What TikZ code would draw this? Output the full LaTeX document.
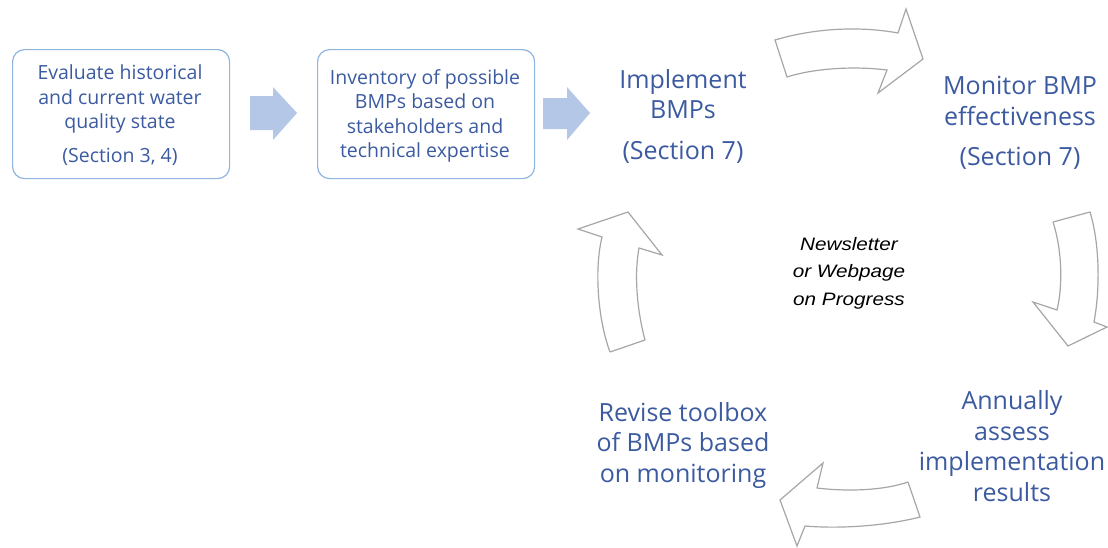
\documentclass[tikz,border=0pt]{standalone}
\usepackage{fontspec}
\setmainfont{Open Sans}
\newfontfamily\notefont[FakeStretch=1.15]{Liberation Sans}
\definecolor{txtblue}{RGB}{59,90,160}
\definecolor{boxline}{RGB}{143,180,224}
\definecolor{arrfill}{RGB}{180,199,231}
\definecolor{arrline}{RGB}{166,166,166}
\begin{document}
\begin{tikzpicture}[x=1pt,y=-1pt,
  stepbox/.style={draw=boxline,line width=1.2pt,rounded corners=12pt,minimum width=217pt,minimum height=129pt,anchor=north west},
  smalltxt/.style={text=txtblue,font=\fontsize{19.5}{24.5}\selectfont,align=center},
  bigtxt/.style={text=txtblue,font=\fontsize{25}{30.5}\selectfont,align=center},
  noteTxt/.style={text=black,font=\notefont\itshape\fontsize{18}{27.5}\selectfont,align=center},
  blockarrow/.style={fill=arrfill,draw=none},
  curvearrow/.style={draw=arrline,line width=1.2pt,fill=white,line join=miter}]
\useasboundingbox (0,0) rectangle (1108,547);
% boxes
\node[stepbox] (b1) at (12,49) {};
\node[stepbox] (b2) at (317,49) {};
\node[smalltxt] (t1) at (120,99) {Evaluate historical\\and current water\\quality state};
\node[smalltxt] (t1s) at (120,157) {(Section 3, 4)};
\node[smalltxt] (t2) at (425,116) {Inventory of possible\\BMPs based on\\stakeholders and\\technical expertise};
% block arrows
\fill[blockarrow] (250,96) -- (273,96) -- (273,87) -- (297,113) -- (273,140) -- (273,130) -- (250,130) -- cycle;
\fill[blockarrow] (543,98) -- (567,98) -- (567,87) -- (590,113) -- (567,140) -- (567,129) -- (543,129) -- cycle;
% big labels
\node[bigtxt] (imp) at (683,94) {Implement\\BMPs};
\node[bigtxt] (imps) at (683,152) {(Section 7)};
\node[bigtxt] (mon) at (1020,101) {Monitor BMP\\effectiveness};
\node[bigtxt] (mons) at (1020,158) {(Section 7)};
\node[bigtxt] (ann) at (1012,446) {Annually\\assess\\implementation\\results};
\node[bigtxt] (rev) at (683,445) {Revise toolbox\\of BMPs based\\on monitoring};
\node[noteTxt] (news) at (849,273) {Newsletter\\or Webpage\\on Progress};
% curved outline arrows
\draw[curvearrow] (775,40) .. controls (815,28) and (860,26) .. (898,33)
  -- (906,9) -- (923,59) -- (878,93) -- (887,70)
  .. controls (855,66) and (815,68) .. (787,77) -- cycle;
\draw[curvearrow] (1053,222) -- (1090,212)
  .. controls (1100,245) and (1100,290) .. (1094,322)
  -- (1107,327) -- (1068,346) -- (1033,302) -- (1057,310)
  .. controls (1063,285) and (1062,250) .. (1053,222);
\draw[curvearrow] (908,482) -- (920,517)
  .. controls (885,526) and (840,529) .. (805,526)
  -- (797,546) -- (780,500) -- (823,463) -- (817,488)
  .. controls (850,492) and (885,490) .. (908,482);
\draw[curvearrow] (610,352) -- (645,340)
  .. controls (637,310) and (634,275) .. (639,248)
  -- (662,255) -- (628,212) -- (578,229) -- (602,237)
  .. controls (594,270) and (598,320) .. (610,352);
\end{tikzpicture}
\end{document}
